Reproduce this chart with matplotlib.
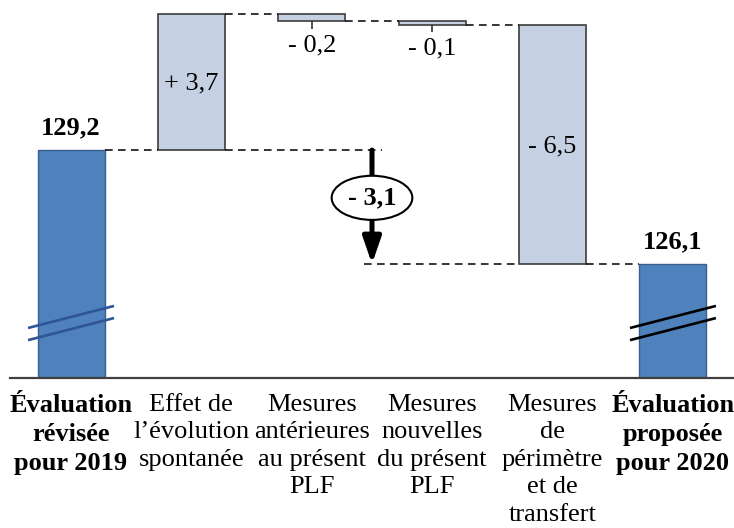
import matplotlib
matplotlib.use("Agg")
import matplotlib.pyplot as plt
from matplotlib.patches import Ellipse
import matplotlib.transforms as mtransforms

plt.rcParams['font.family'] = ['Liberation Serif', 'DejaVu Serif']

# ---- data ----
categories = [
    "Évaluation\nrévisée\npour 2019",
    "Effet de\nl’évolution\nspontanée",
    "Mesures\nantérieures\nau présent\nPLF",
    "Mesures\nnouvelles\ndu présent\nPLF",
    "Mesures\nde\npérimètre\net de\ntransfert",
    "Évaluation\nproposée\npour 2020",
]
bold_categories = [True, False, False, False, False, True]
start_total = 129.2
end_total = 126.1
deltas = [3.7, -0.2, -0.1, -6.5]
delta_labels = ["+ 3,7", "- 0,2", "- 0,1", "- 6,5"]
total_labels = ["129,2", "126,1"]
net_change_label = "- 3,1"

# ---- style ----
blue = "#4F81BD"
blue_edge = "#3A5F8E"
light = "#C5D0E3"
light_edge = "#3C3C3C"
fs = 19
ymin, ymax = 123.0, 133.28
w = 0.556

fig = plt.figure(figsize=(7.34, 5.28), dpi=100)
ax = fig.add_axes([10 / 734, 1 - 378 / 528, 724 / 734, 378 / 528])
ax.set_xlim(-0.507, 5.507)
ax.set_ylim(ymin, ymax)

# totals
ax.bar(0, start_total - ymin, bottom=ymin, width=w, color=blue, edgecolor=blue_edge, lw=1, zorder=2)
ax.bar(5, end_total - ymin, bottom=ymin, width=w, color=blue, edgecolor=blue_edge, lw=1, zorder=2)

levels = [start_total]
for d in deltas:
    levels.append(round(levels[-1] + d, 2))

# delta bars
for i, d in enumerate(deltas):
    x = i + 1
    prev = levels[i]
    ax.bar(x, abs(d), bottom=min(prev, prev + d), width=w, color=light,
           edgecolor=light_edge, lw=1.2, zorder=2)

dash = (0, (5, 3.5))
# connectors
ax.hlines(levels[0], 0 + w / 2, 1 - w / 2, colors="black", linestyles=dash, lw=1.1)
ax.hlines(levels[0], 1 + w / 2, 2.58, colors="black", linestyles=dash, lw=1.1)
for i in range(1, 4):
    ax.hlines(levels[i], i + w / 2, i + 1 - w / 2, colors="black", linestyles=dash, lw=1.1)
ax.hlines(levels[4], 2.43, 4 - w / 2, colors="black", linestyles=dash, lw=1.1)
ax.hlines(levels[4], 4 + w / 2, 5 - w / 2, colors="black", linestyles=dash, lw=1.1)

# delta labels
for i, (d, lab) in enumerate(zip(deltas, delta_labels)):
    x = i + 1
    prev = levels[i]
    top, bot = max(prev, prev + d), min(prev, prev + d)
    if abs(d) >= 1:
        ax.text(x, (top + bot) / 2 - 0.05, lab, ha="center", va="center", fontsize=fs, zorder=4)
    else:
        ax.vlines(x, bot - 0.2, bot, colors="#333333", lw=1.2, zorder=3)
        ax.text(x, bot - 0.65, lab, ha="center", va="center", fontsize=fs, zorder=4)

# total labels
ax.text(0, start_total + 0.6, total_labels[0], ha="center", va="center", fontsize=fs, fontweight="bold")
ax.text(5, end_total + 0.6, total_labels[1], ha="center", va="center", fontsize=fs, fontweight="bold")

# break marks
for x, col in [(0, "#2F5597"), (5, "black")]:
    for off in (0.0, -0.33):
        ax.plot([x - 0.357, x + 0.357], [124.36 + off, 124.96 + off], color=col, lw=1.9,
                solid_capstyle="butt", zorder=3)

# net change arrow
ax.annotate("", xy=(2.5, end_total), xytext=(2.5, start_total),
            arrowprops=dict(arrowstyle="-|>,head_length=1.6,head_width=0.55", lw=3.6,
                            color="black", shrinkA=0, shrinkB=0, mutation_scale=10),
            zorder=4)
ax.add_patch(Ellipse((2.5, 127.9), width=0.67, height=1.2, facecolor="white",
                     edgecolor="black", lw=1.5, zorder=5))
ax.text(2.5, 127.9, net_change_label, ha="center", va="center", fontsize=fs,
        fontweight="bold", zorder=6)

# axes styling
for s in ["top", "right", "left"]:
    ax.spines[s].set_visible(False)
ax.spines["bottom"].set_color("#404040")
ax.spines["bottom"].set_linewidth(1.6)
ax.set_yticks([])
ax.set_xticks([])

trans = mtransforms.blended_transform_factory(ax.transData, ax.transAxes)
for i, (c, b) in enumerate(zip(categories, bold_categories)):
    ax.text(i, -16 / 378, c, transform=trans, ha="center", va="top", fontsize=fs,
            fontweight="bold" if b else "normal", linespacing=1.32)

fig.savefig("out.png", dpi=100)
